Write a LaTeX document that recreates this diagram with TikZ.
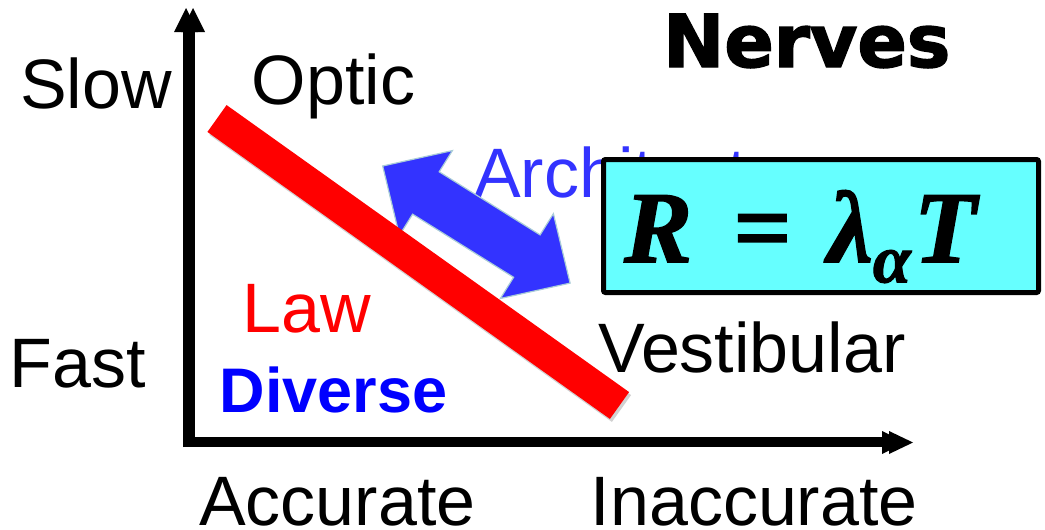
\documentclass[tikz,border=0pt]{standalone}
\usepackage{fontspec}
\setmainfont{Liberation Sans}
\newfontfamily\heavy[FakeBold=2]{DejaVu Sans Bold}
\newfontfamily\eqfont[FakeBold=1.5]{Liberation Serif Bold Italic}
\definecolor{arrblue}{RGB}{51,51,255}
\definecolor{txtblue}{RGB}{51,51,255}
\definecolor{divblue}{RGB}{0,0,255}
\definecolor{boxcyan}{RGB}{102,255,255}
\definecolor{outl}{RGB}{170,205,215}
\newcommand{\eqtext}{{\fontsize{95}{95}\selectfont\eqfont R\hspace{0.4em}=\hspace{0.36em}λ\raisebox{-0.2em}{\fontsize{64}{64}\selectfont\eqfont α}\hspace{0.03em}T}}
\begin{document}
\begin{tikzpicture}[x=1pt,y=-1pt,
  lbl/.style={anchor=base west, inner sep=0pt, font=\fontsize{70}{70}\selectfont},
  shadowc/.style={black!18},
  eqbox/.style={draw=black, line width=5pt, fill=boxcyan, rounded corners=2pt, minimum width=435pt, minimum height=133pt, inner sep=0pt}]
\useasboundingbox (0,0) rectangle (1045,530);

% axes coordinates
\coordinate (corner) at (189,447);
\coordinate (ytop) at (189,32);
\coordinate (xstart) at (183,442);
\coordinate (xend) at (884,442);

% shadows
\begin{scope}[shift={(2,3)}]
  \draw[shadowc, line width=12pt] (corner) -- (ytop);
  \draw[shadowc, line width=10pt] (xstart) -- (xend);
  \draw[shadowc, line width=33pt] (217,118.5) -- (619.5,405.5);
\end{scope}

% axes
\draw[line width=12pt] (corner) -- (ytop);
\draw[line width=10pt] (xstart) -- (xend);
\fill (174,32) -- (186,8) -- (198,32) -- cycle;
\fill (181,32) -- (193,8) -- (205,32) -- cycle;
\fill (882,431) -- (905,442.5) -- (882,454) -- cycle;
\fill (889,431) -- (913,442.5) -- (889,454) -- cycle;

% Architecture text (partly hidden by the box)
\node[lbl, text=txtblue] (arch) at (474,197) {Architecture};

% blue double arrow
\filldraw[fill=arrblue, draw=outl, line width=1.2pt, line join=miter]
  (382.7,166) -- (452.4,150.6) -- (439.2,171.8) -- (540.1,234.9) -- (553.4,213.7)
  -- (570.1,283.1) -- (500.4,298.5) -- (513.6,277.3) -- (412.6,214.2) -- (399.4,235.4) -- cycle;

% red bar
\draw[red, line width=33pt] (217,118.5) -- (619.5,405.5);

% equation box
\node[eqbox] (box) at (821,226) {};
\node[anchor=base west, inner sep=0pt] (eq) at (624,262) {\resizebox{352pt}{!}{\eqtext}};

% labels
\node[lbl] (slow) at (20,108) {Slow};
\node[lbl] (optic) at (251.5,104) {Optic};
\node[lbl] (fast) at (9.5,387) {Fast};
\node[lbl, text=red] (law) at (242,332) {Law};
\node[lbl, text=divblue, font=\fontsize{63}{63}\selectfont\bfseries] (diverse) at (219.5,412) {Diverse};
\node[lbl] (vest) at (598,372) {Vestibular};
\node[lbl] (acc) at (199,525) {Accurate};
\node[lbl] (inacc) at (590.5,525) {Inaccurate};
\node[anchor=base west, inner sep=0pt, font=\fontsize{73}{73}\selectfont\heavy] (nerves) at (663,67) {Nerves};
\end{tikzpicture}
\end{document}
